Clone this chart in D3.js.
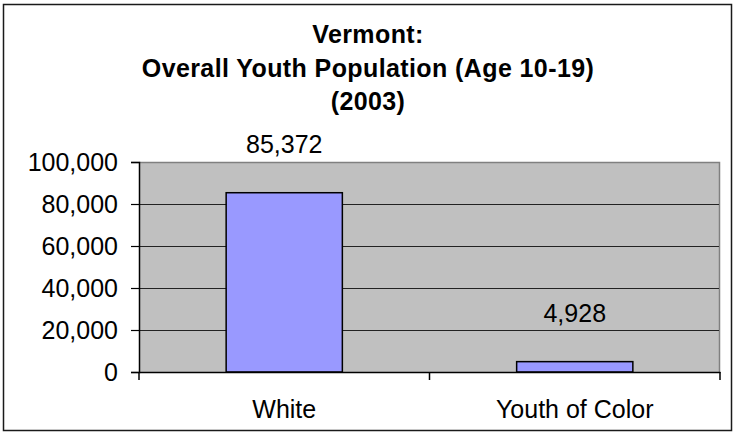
<!DOCTYPE html>
<html>
<head>
<meta charset="utf-8">
<script src="https://cdn.jsdelivr.net/npm/d3@7"></script>
<style>
  html, body { margin: 0; padding: 0; background: #fff; }
  svg { display: block; font-family: "Liberation Sans", Arial, sans-serif; }
</style>
</head>
<body>
<svg id="chart" width="735" height="435"></svg>
<script>
const titleLines = ["Vermont:", "Overall Youth Population (Age 10-19)", "(2003)"];
const categories = ["White", "Youth of Color"];
const values = [85372, 4928];
const yTicks = [0, 20000, 40000, 60000, 80000, 100000];

const svg = d3.select("#chart");
const plot = { left: 139, right: 720, top: 162, bottom: 372 };

// outer border
svg.append("rect").attr("x", 3.5).attr("y", 4.5).attr("width", 728).attr("height", 426)
  .attr("fill", "#fff").attr("stroke", "#1a1a1a").attr("stroke-width", 1.5);

// title
const title = svg.append("text").attr("text-anchor", "middle")
  .attr("font-size", 25).attr("font-weight", "bold").attr("fill", "#000")
  .attr("letter-spacing", 0.4);
titleLines.forEach((t, i) => {
  title.append("tspan").attr("x", 368).attr("y", 43 + i * 33.5).text(t);
});

const x = d3.scaleBand().domain(categories).range([plot.left, plot.right]).padding(0);
const y = d3.scaleLinear().domain([0, 100000]).range([plot.bottom, plot.top]);

// plot background
svg.append("rect").attr("x", plot.left).attr("y", plot.top)
  .attr("width", plot.right - plot.left).attr("height", plot.bottom - plot.top)
  .attr("fill", "#C0C0C0");

// top and right gray border
svg.append("path")
  .attr("d", `M${plot.left},${plot.top + 0.5}H${plot.right - 0.5}V${plot.bottom}`)
  .attr("fill", "none").attr("stroke", "#808080").attr("stroke-width", 1.5);

// gridlines
svg.append("g").selectAll("line").data(yTicks.filter(d => d > 0 && d < 100000)).join("line")
  .attr("x1", plot.left).attr("x2", plot.right - 1)
  .attr("y1", d => Math.round(y(d)) + 0.5).attr("y2", d => Math.round(y(d)) + 0.5)
  .attr("stroke", "#222").attr("stroke-width", 1);

// bars
const bw = x.bandwidth() * 0.4;
svg.append("g").selectAll("rect").data(values).join("rect")
  .attr("x", (d, i) => x(categories[i]) + x.bandwidth() / 2 - bw / 2)
  .attr("y", d => y(d))
  .attr("width", bw)
  .attr("height", d => y(0) - y(d))
  .attr("fill", "#9999FF").attr("stroke", "#000").attr("stroke-width", 1.5);

// data labels
svg.append("g").selectAll("text").data(values).join("text")
  .attr("x", (d, i) => x(categories[i]) + x.bandwidth() / 2)
  .attr("y", d => y(d) - 40)
  .attr("text-anchor", "middle").attr("font-size", 25).attr("fill", "#000")
  .text(d => d3.format(",")(d));

// y axis
const yAxis = svg.append("g").attr("transform", `translate(${plot.left},0)`)
  .call(d3.axisLeft(y).tickValues(yTicks).tickFormat(d3.format(",")).tickSize(8).tickPadding(13));
yAxis.select(".domain").attr("stroke", "#000").attr("stroke-width", 1.5);
yAxis.selectAll(".tick line").attr("stroke", "#000").attr("stroke-width", 1.2);
yAxis.selectAll(".tick text").attr("font-size", 25).attr("font-family", "Liberation Sans, Arial, sans-serif").attr("fill", "#000");

// x axis
const xAxis = svg.append("g").attr("transform", `translate(0,${plot.bottom})`)
  .call(d3.axisBottom(x).tickSize(0).tickPadding(28));
xAxis.select(".domain").attr("stroke", "#000").attr("stroke-width", 1.5);
xAxis.selectAll(".tick text").attr("font-size", 25).attr("font-family", "Liberation Sans, Arial, sans-serif").attr("fill", "#000");
// x tick marks at band boundaries
const bounds = [plot.left, plot.left + x.step(), plot.right];
xAxis.append("g").selectAll("line").data(bounds).join("line")
  .attr("x1", d => d).attr("x2", d => d).attr("y1", 0).attr("y2", 8)
  .attr("stroke", "#000").attr("stroke-width", 1.5);
</script>
</body>
</html>
